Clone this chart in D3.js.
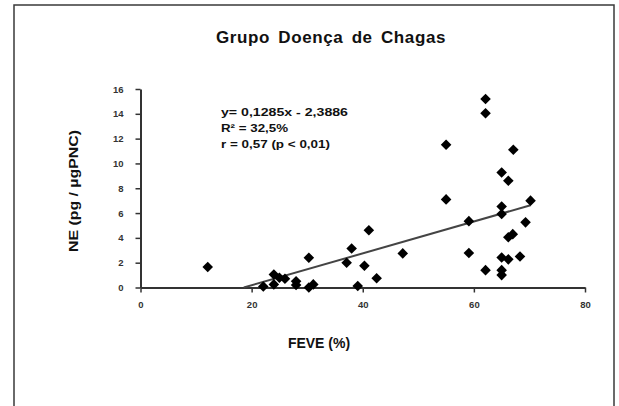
<!DOCTYPE html>
<html>
<head>
<meta charset="utf-8">
<script src="https://cdn.jsdelivr.net/npm/d3@7"></script>
<style>
  body { margin: 0; background: #fff; }
  svg { display: block; font-family: Arial, "Liberation Sans", sans-serif; }
</style>
</head>
<body>
<svg id="grafico" width="619" height="406"></svg>
<script>
// dados: FEVE (%) x NE (pg / µgPNC)
const feve = [12.1, 22.1, 24.0, 24.0, 25.0, 26.0, 28.0, 28.0, 30.3, 30.3, 31.1,
  37.1, 38.0, 39.1, 40.3, 41.1, 42.5, 47.2, 55.0, 55.0, 59.1, 59.1,
  62.1, 62.1, 62.1, 65.0, 65.0, 65.0, 65.0, 65.0, 65.0, 66.2, 66.2,
  67.0, 67.1, 66.2, 68.3, 69.3, 70.2];
const ne = [1.65, 0.08, 1.05, 0.25, 0.78, 0.7, 0.5, 0.2, 2.4, 0.0, 0.25,
  2.0, 3.15, 0.12, 1.75, 4.62, 0.74, 2.75, 11.5, 7.1, 5.35, 2.78,
  15.2, 14.05, 1.4, 9.27, 6.53, 5.92, 2.42, 1.4, 1.0, 8.6, 4.05,
  4.3, 11.1, 2.27, 2.5, 5.25, 7.0];

const xTicks = [0, 20, 40, 60, 80];
const yTicks = [0, 2, 4, 6, 8, 10, 12, 14, 16];

const inclinacao = 0.1285;
const intercepto = -2.3886;
const textoEquacao = ["y= 0,1285x - 2,3886", "R\u00b2 = 32,5%", "r = 0,57 (p < 0,01)"];

const svg = d3.select("#grafico");

// moldura
svg.append("rect")
  .attr("x", 14).attr("y", 5)
  .attr("width", 600).attr("height", 420)
  .attr("fill", "none")
  .attr("stroke", "#3a3a3a")
  .attr("stroke-width", 1.5);

const x = d3.scaleLinear().domain([0, 80]).range([140.5, 585]);
const y = d3.scaleLinear().domain([0, 16]).range([287.5, 89]);

// titulo
svg.append("text")
  .attr("x", 331).attr("y", 43)
  .attr("text-anchor", "middle")
  .attr("font-size", 17)
  .attr("font-weight", "bold")
  .attr("letter-spacing", 0.6)
  .attr("word-spacing", 3)
  .attr("fill", "#111")
  .text("Grupo Doença de Chagas");

// eixos
const eixoX = svg.append("g")
  .attr("transform", `translate(0,${y(0)})`)
  .call(d3.axisBottom(x).tickValues(xTicks).tickSize(5).tickPadding(9).tickSizeOuter(0));

const eixoY = svg.append("g")
  .attr("transform", `translate(${x(0)},0)`)
  .call(d3.axisLeft(y).tickValues(yTicks).tickSize(5).tickPadding(12).tickSizeOuter(0));

[eixoX, eixoY].forEach(g => {
  g.select(".domain").attr("stroke", "#333").attr("stroke-width", 2);
  g.selectAll(".tick line").attr("stroke", "#333").attr("stroke-width", 1.5);
  g.selectAll(".tick text")
    .attr("font-size", 9.5)
    .attr("font-weight", "bold")
    .attr("font-family", "Arial, 'Liberation Sans', sans-serif")
    .attr("fill", "#333");
});

// rotulos dos eixos
svg.append("text")
  .attr("x", 319).attr("y", 348)
  .attr("text-anchor", "middle")
  .attr("font-size", 14)
  .attr("font-weight", "bold")
  .attr("fill", "#111")
  .text("FEVE (%)");

svg.append("text")
  .attr("transform", "translate(78,191) rotate(-90)")
  .attr("text-anchor", "middle")
  .attr("font-size", 13.5)
  .attr("font-weight", "bold")
  .attr("fill", "#111")
  .attr("textLength", 122)
  .attr("lengthAdjust", "spacingAndGlyphs")
  .text("NE (pg / \u00b5gPNC)");

// linha de tendencia (de y = 0 ate o maior x)
const xIni = -intercepto / inclinacao;
const xFim = d3.max(feve);
svg.append("line")
  .attr("x1", x(xIni)).attr("y1", y(inclinacao * xIni + intercepto))
  .attr("x2", x(xFim)).attr("y2", y(inclinacao * xFim + intercepto))
  .attr("stroke", "#444")
  .attr("stroke-width", 2);

// pontos
const pontos = feve.map((v, i) => ({ x: v, y: ne[i] }));
svg.append("g")
  .selectAll("path")
  .data(pontos)
  .join("path")
  .attr("d", d3.symbol().type(d3.symbolSquare).size(56))
  .attr("transform", d => `translate(${x(d.x)},${y(d.y)}) rotate(45)`)
  .attr("fill", "#000");

// equacao
const larguras = [127, 67, 109];
svg.append("g")
  .selectAll("text")
  .data(textoEquacao)
  .join("text")
  .attr("x", 221)
  .attr("y", (d, i) => 116 + i * 16)
  .attr("font-size", 11.5)
  .attr("font-weight", "bold")
  .attr("fill", "#111")
  .attr("textLength", (d, i) => larguras[i])
  .attr("lengthAdjust", "spacingAndGlyphs")
  .text(d => d);
</script>
</body>
</html>
